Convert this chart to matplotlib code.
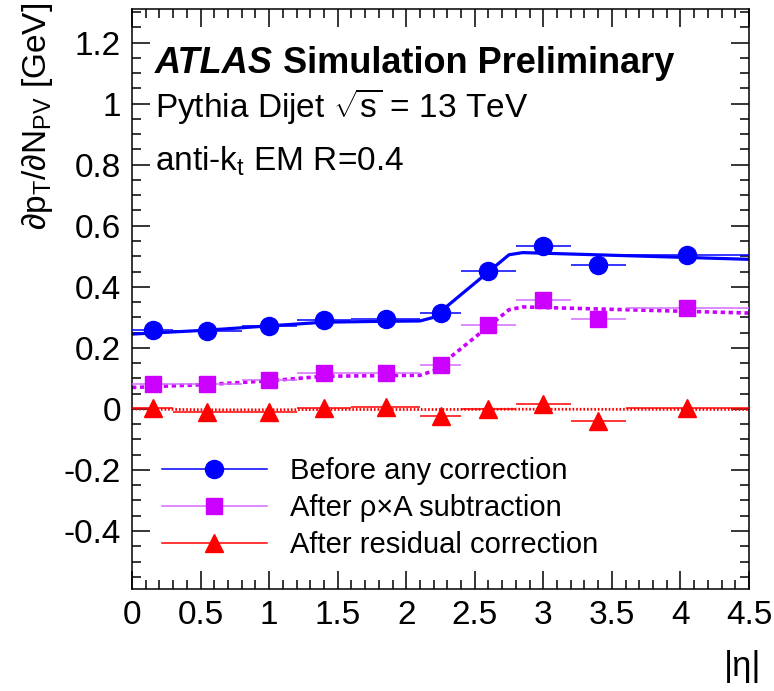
import numpy as np
import matplotlib
matplotlib.use("Agg")
import matplotlib.pyplot as plt
from matplotlib.lines import Line2D
from matplotlib.ticker import MultipleLocator

plt.rcParams['font.family'] = ['Liberation Sans', 'DejaVu Sans']
plt.rcParams['mathtext.fontset'] = 'custom'
plt.rcParams['mathtext.rm'] = 'Liberation Sans'
plt.rcParams['mathtext.it'] = 'Liberation Sans:italic'

# eta bins
bin_edges = np.array([0.0, 0.3, 0.8, 1.2, 1.6, 2.1, 2.4, 2.8, 3.2, 3.6, 4.5])
eta = (bin_edges[:-1] + bin_edges[1:]) / 2
eta_err = (bin_edges[1:] - bin_edges[:-1]) / 2

# points
before = [0.257, 0.256, 0.271, 0.291, 0.295, 0.314, 0.451, 0.533, 0.472, 0.504]
after_rho = [0.083, 0.081, 0.094, 0.116, 0.118, 0.144, 0.275, 0.357, 0.295, 0.331]
after_res = [0.004, -0.010, -0.010, 0.003, 0.005, -0.022, 0.001, 0.015, -0.040, 0.003]

# fitted curves
fit_x = [0.0, 0.55, 1.0, 1.4, 1.85, 2.1, 2.2, 2.75, 2.85, 4.5]
fit_before = [0.245, 0.258, 0.272, 0.284, 0.287, 0.288, 0.300, 0.505, 0.512, 0.490]
fit_rho = [0.070, 0.080, 0.092, 0.107, 0.109, 0.110, 0.125, 0.325, 0.334, 0.314]
fit_res = [0.000, -0.003, -0.003, -0.002, -0.002, -0.002, -0.002, -0.001, -0.001, -0.002]

labels = ["Before any correction", "After ρ×A subtraction", "After residual correction"]

blue = '#0000ff'
mag = '#cc00ff'
mag_light = '#d46bff'
red = '#ff0000'

fig = plt.figure(figsize=(7.74, 6.91), dpi=100)
ax = fig.add_axes([132/774, 1 - 589/691, 617/774, 580/691])

ax.plot(fit_x, fit_before, color=blue, lw=2.3, zorder=2)
ax.plot(fit_x, fit_rho, color=mag, lw=2.6, ls=(0, (1.2, 1.0)), zorder=2)
ax.plot(fit_x, fit_res, color=red, lw=2.0, ls=(0, (0.6, 0.7)), zorder=2)

ax.errorbar(eta, before, xerr=eta_err, fmt='o', color=blue, ms=13, elinewidth=1.1, zorder=3)
ax.errorbar(eta, after_rho, xerr=eta_err, fmt='s', color=mag, ecolor=mag_light, ms=12, elinewidth=1.1, zorder=3)
ax.errorbar(eta, after_res, xerr=eta_err, fmt='^', color=red, ms=13, elinewidth=1.1, zorder=3)

ax.set_xlim(0, 4.5)
ax.set_ylim(-0.59, 1.31)
ax.xaxis.set_minor_locator(MultipleLocator(0.1))
ax.yaxis.set_minor_locator(MultipleLocator(0.05))
ax.set_xticks(np.arange(0, 4.51, 0.5))
ax.set_xticklabels(['0', '0.5', '1', '1.5', '2', '2.5', '3', '3.5', '4', '4.5'])
ax.set_yticks(np.arange(-0.4, 1.21, 0.2))
ax.set_yticklabels(['-0.4', '-0.2', '0', '0.2', '0.4', '0.6', '0.8', '1', '1.2'])
ax.tick_params(which='both', direction='in', top=True, right=True, labelsize=24, width=1.1)
ax.tick_params(which='major', length=13, pad=8)
ax.tick_params(which='minor', length=6.5)
for s in ax.spines.values():
    s.set_linewidth(1.1)

ax.set_ylabel('∂p$_\\mathrm{T}$/∂N$_\\mathrm{PV}$ [GeV]', fontsize=24, loc='top')
ax.yaxis.set_label_coords(-0.125, 1.01)
ax.set_xlabel('|η|', fontsize=25, loc='right')
ax.xaxis.set_label_coords(1.02, -0.105)

atlas = ax.text(0.037, 0.890, 'ATLAS', transform=ax.transAxes, fontsize=26,
                fontweight='bold', fontstyle='italic', va='baseline')
ax.annotate('Simulation Preliminary', xy=(1, 0), xycoords=atlas,
            xytext=(7, 0), textcoords='offset points', fontsize=26,
            fontweight='bold', va='bottom', ha='left')
ax.text(0.037, 0.814, 'Pythia Dijet $\\sqrt{\\mathrm{s}}$ = 13 TeV', transform=ax.transAxes,
        fontsize=24, va='baseline')
ax.text(0.037, 0.722, 'anti-k$_\\mathrm{t}$ EM R=0.4', transform=ax.transAxes,
        fontsize=24, va='baseline')

handles = [
    Line2D([], [], color=blue, marker='o', ms=13, lw=1.1),
    Line2D([], [], color=mag_light, marker='s', ms=12, lw=1.1, mfc=mag, mec=mag),
    Line2D([], [], color=red, marker='^', ms=13, lw=1.1),
]
ax.legend(handles, labels, loc='upper left', bbox_to_anchor=(0.0486, 0.228),
          frameon=False, fontsize=21, handlelength=3.6, handletextpad=0.8,
          labelspacing=0.32, borderpad=0, borderaxespad=0)

fig.savefig('out.png', dpi=100)
